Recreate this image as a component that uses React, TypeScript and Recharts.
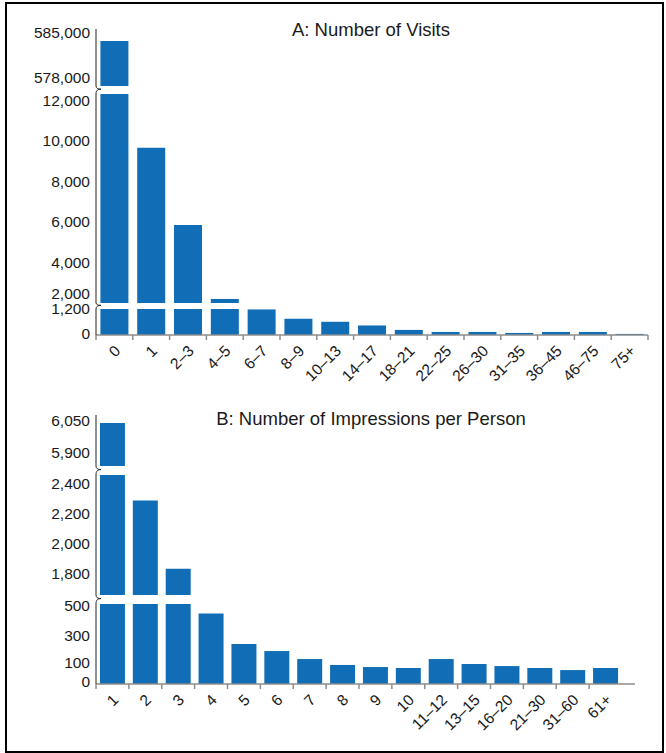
import React from 'react'
import { BarChart, Bar, XAxis, YAxis } from 'recharts'

const FONT = '"Liberation Sans", Arial, Helvetica, sans-serif'
const BLUE = '#116eb6'
const AXIS = '#222'
const XAXIS = '#8c8c8c'

// A: number of visits
const visitCats = ['0', '1', '2–3', '4–5', '6–7', '8–9', '10–13', '14–17', '18–21', '22–25', '26–30', '31–35', '36–45', '46–75', '75+']
const visitCounts = [583650, 9670, 5850, 2200, 1180, 750, 610, 440, 235, 140, 140, 95, 140, 140, 50]
const visitTicksTop = [578000, 585000]
const visitTicksMid = [2000, 4000, 6000, 8000, 10000, 12000]
const visitTicksLow = [0, 1200]

// B: number of impressions per person
const impCats = ['1', '2', '3', '4', '5', '6', '7', '8', '9', '10', '11–12', '13–15', '16–20', '21–30', '31–60', '61+']
const impCounts = [6040, 2290, 1835, 440, 250, 206, 156, 119, 106, 100, 156, 125, 112, 100, 87, 100]
const impTicksTop = [5900, 6050]
const impTicksMid = [1800, 2000, 2200, 2400]
const impTicksLow = [0, 100, 300, 500]

type Segment = {
  top: number
  height: number
  domain: [number, number]
  ticks: number[]
  nudge?: Record<number, number>
}

const visitSegments: Segment[] = [
  { top: 29, height: 57, domain: [576650, 585500], ticks: visitTicksTop },
  { top: 94, height: 209, domain: [2000, 12320], ticks: visitTicksMid, nudge: { 2000: -9.5 } },
  { top: 309, height: 26, domain: [0, 1200], ticks: visitTicksLow, nudge: { 0: -1.5 } },
]

const impSegments: Segment[] = [
  { top: 415, height: 51, domain: [5838, 6077], ticks: impTicksTop },
  { top: 475, height: 120, domain: [1660, 2460], ticks: impTicksMid },
  { top: 604, height: 80, domain: [0, 500], ticks: impTicksLow, nudge: { 500: 1.5, 100: -5, 0: -2 } },
]

const CHART_W = 660
const YAXIS_W = 96
const XAXIS_H = 60
const PAD = 12 // room so edge labels are not clipped by the svg

function YTick(props: any) {
  const { x, y, payload, nudge } = props
  const shift = (nudge && nudge[payload.value]) || 0
  return (
    <text x={x} y={y + shift} dy="0.35em" textAnchor="end" fontSize={15.5} fontFamily={FONT} fill="#1a1a1a">
      {Number(payload.value).toLocaleString('en-US')}
    </text>
  )
}

function XTick(props: any) {
  const { x, y, payload, bandWidth, closeEnd, count } = props
  const idx = props.index ?? payload.index
  const left = x - bandWidth / 2
  return (
    <g>
      <line x1={left} x2={left} y1={y} y2={y + 5} stroke={XAXIS} strokeWidth={1.5} />
      {closeEnd && idx === count - 1 && (
        <line x1={x + bandWidth / 2} x2={x + bandWidth / 2} y1={y} y2={y + 5} stroke={XAXIS} strokeWidth={1.5} />
      )}
      <text
        transform={`translate(${x + 3},${y + 13}) rotate(-45)`}
        dy="0.35em"
        textAnchor="end"
        fontSize={15.5}
        fontFamily={FONT}
        fill="#1a1a1a"
      >
        {payload.value}
      </text>
    </g>
  )
}

interface PanelProps {
  title: string
  titleY: number
  cats: string[]
  counts: number[]
  segments: Segment[]
  rightMargin: number
  padRight: number
  closeEnd: boolean
}

function Panel({ title, titleY, cats, counts, segments, rightMargin, padRight, closeEnd }: PanelProps) {
  const bandWidth = (CHART_W - rightMargin - YAXIS_W - padRight) / cats.length

  return (
    <>
      {segments.map((seg, si) => {
        const [lo, hi] = seg.domain
        const data = cats.map((c, i) => ({
          cat: c,
          v: counts[i] > lo ? Math.min(counts[i], hi) : null,
        }))
        const isLast = si === segments.length - 1
        return (
          <div key={si} style={{ position: 'absolute', left: 0, top: seg.top - PAD }}>
            <BarChart
              width={CHART_W}
              height={seg.height + PAD + (isLast ? XAXIS_H : PAD)}
              data={data}
              margin={{ top: PAD, right: rightMargin, bottom: isLast ? 0 : PAD, left: 0 }}
              barCategoryGap="12%"
            >
              <XAxis
                dataKey="cat"
                hide={!isLast}
                height={XAXIS_H}
                interval={0}
                padding={{ left: 0, right: padRight }}
                axisLine={{ stroke: XAXIS, strokeWidth: 1.5 }}
                tickLine={false}
                tickSize={0}
                tickMargin={0}
                tick={<XTick bandWidth={bandWidth} closeEnd={closeEnd} count={cats.length} />}
              />
              <YAxis
                type="number"
                width={YAXIS_W}
                domain={seg.domain}
                ticks={seg.ticks}
                interval={0}
                allowDataOverflow
                axisLine={{ stroke: AXIS, strokeWidth: 1 }}
                tickLine={false}
                tickSize={4}
                tickMargin={2}
                tick={<YTick nudge={seg.nudge} />}
              />
              <Bar dataKey="v" fill={BLUE} isAnimationActive={false} />
            </BarChart>
          </div>
        )
      })}

      {/* axis break braces */}
      <svg width={666} height={753} style={{ position: 'absolute', left: 0, top: 0, pointerEvents: 'none' }}>
        {segments.slice(0, -1).map((seg, si) => {
          const y1 = seg.top + seg.height
          const y2 = segments[si + 1].top
          const yt = y1 + (y2 - y1) * 0.4
          const d = `M ${YAXIS_W} ${y1} C ${YAXIS_W} ${yt - 1}, ${YAXIS_W + 2} ${yt}, ${YAXIS_W + 5} ${yt} C ${YAXIS_W + 2} ${yt}, ${YAXIS_W} ${yt + 1}, ${YAXIS_W} ${y2}`
          return <path key={si} d={d} fill="none" stroke={AXIS} strokeWidth={1} />
        })}
      </svg>

      <div
        style={{
          position: 'absolute',
          left: 0,
          width: 742,
          top: titleY - 11,
          lineHeight: '22px',
          textAlign: 'center',
          fontFamily: FONT,
          fontSize: 18.5,
          color: '#1a1a1a',
        }}
      >
        {title}
      </div>
    </>
  )
}

export default function App() {
  return (
    <div>
      <div
        style={{
          position: 'absolute',
          left: 5,
          top: 2,
          width: 659,
          height: 751,
          border: '2.5px solid #000',
          boxSizing: 'border-box',
        }}
      />
      <Panel
        title="A: Number of Visits"
        titleY={29.7}
        cats={visitCats}
        counts={visitCounts}
        segments={visitSegments}
        rightMargin={12}
        padRight={0}
        closeEnd
      />
      <Panel
        title="B: Number of Impressions per Person"
        titleY={419.3}
        cats={impCats}
        counts={impCounts}
        segments={impSegments}
        rightMargin={25}
        padRight={13}
        closeEnd={false}
      />
    </div>
  )
}
